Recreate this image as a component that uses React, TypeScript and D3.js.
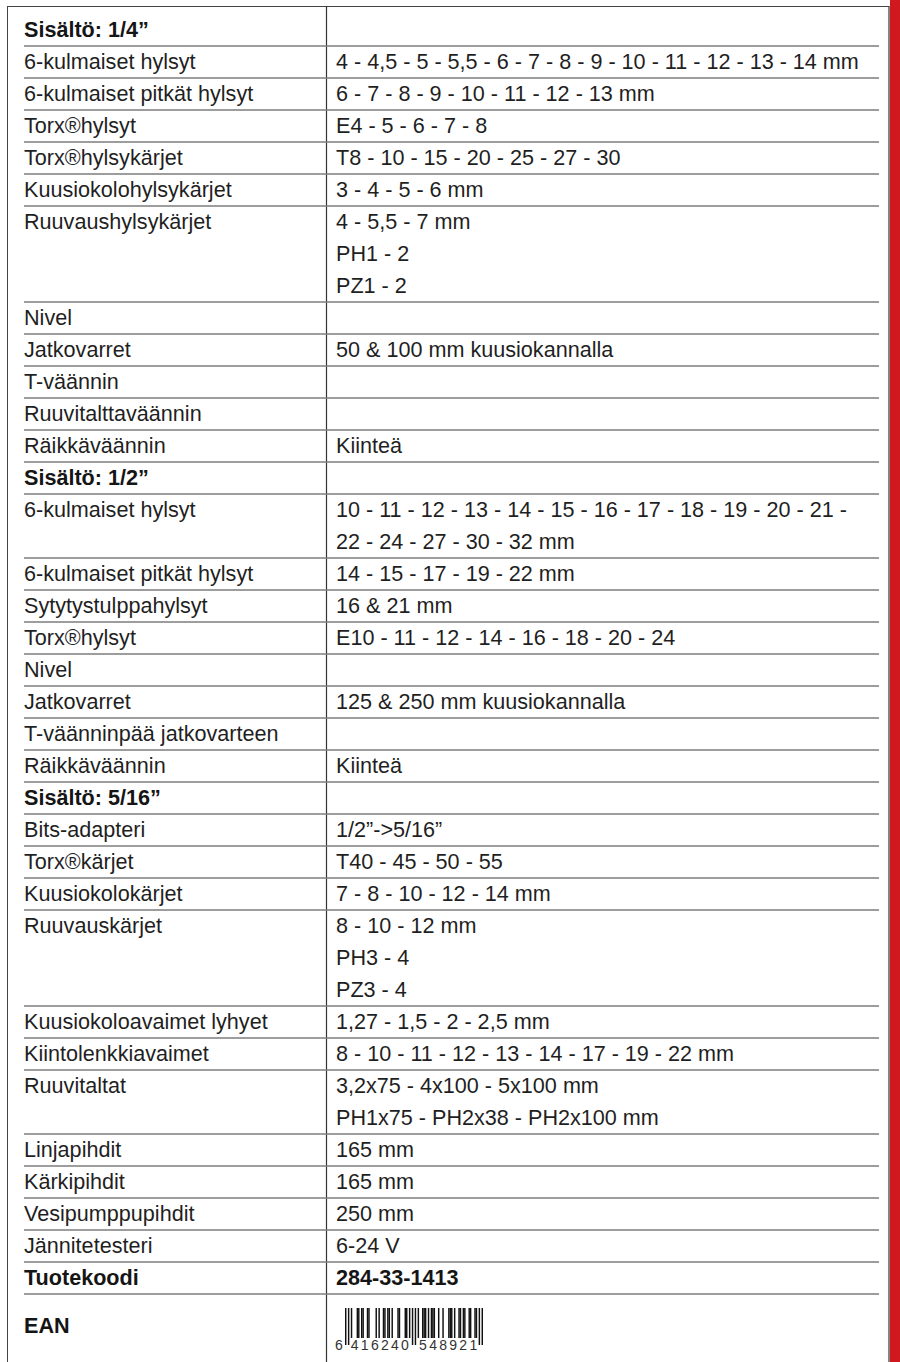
import * as React from 'react';
import * as d3 from 'd3';

// rows: [label, value lines, bold]
type Row = [string, string[], boolean?];

const section14: Row[] = [
    ['Sisältö: 1/4”', [], true],
    ['6-kulmaiset hylsyt', ['4 - 4,5 - 5 - 5,5 - 6 - 7 - 8 - 9 - 10 - 11 - 12 - 13 - 14 mm']],
    ['6-kulmaiset pitkät hylsyt', ['6 - 7 - 8 - 9 - 10 - 11 - 12 - 13 mm']],
    ['Torx®hylsyt', ['E4 - 5 - 6 - 7 - 8']],
    ['Torx®hylsykärjet', ['T8 - 10 - 15 - 20 - 25 - 27 - 30']],
    ['Kuusiokolohylsykärjet', ['3 - 4 - 5 - 6 mm']],
    ['Ruuvaushylsykärjet', ['4 - 5,5 - 7 mm', 'PH1 - 2', 'PZ1 - 2']],
    ['Nivel', []],
    ['Jatkovarret', ['50 & 100 mm kuusiokannalla']],
    ['T-väännin', []],
    ['Ruuvitalttaväännin', []],
    ['Räikkäväännin', ['Kiinteä']],
];

const section12: Row[] = [
    ['Sisältö: 1/2”', [], true],
    ['6-kulmaiset hylsyt', ['10 - 11 - 12 - 13 - 14 - 15 - 16 - 17 - 18 - 19 - 20 - 21 -', '22 - 24 - 27 - 30 - 32  mm']],
    ['6-kulmaiset pitkät hylsyt', ['14 - 15 - 17 - 19 - 22 mm']],
    ['Sytytystulppahylsyt', ['16 & 21 mm']],
    ['Torx®hylsyt', ['E10 - 11 - 12 - 14 - 16 - 18 - 20 - 24']],
    ['Nivel', []],
    ['Jatkovarret', ['125 & 250 mm kuusiokannalla']],
    ['T-väänninpää jatkovarteen', []],
    ['Räikkäväännin', ['Kiinteä']],
];

const section516: Row[] = [
    ['Sisältö: 5/16”', [], true],
    ['Bits-adapteri', ['1/2”->5/16”']],
    ['Torx®kärjet', ['T40 - 45 - 50 - 55']],
    ['Kuusiokolokärjet', ['7 - 8 - 10 - 12 - 14 mm']],
    ['Ruuvauskärjet', ['8 - 10 - 12 mm', 'PH3 - 4', 'PZ3 - 4']],
    ['Kuusiokoloavaimet lyhyet', ['1,27 - 1,5 - 2 - 2,5 mm']],
    ['Kiintolenkkiavaimet', ['8 - 10 - 11 - 12 - 13 - 14 - 17 - 19 - 22 mm']],
    ['Ruuvitaltat', ['3,2x75 - 4x100 - 5x100 mm', 'PH1x75 - PH2x38 - PH2x100 mm']],
    ['Linjapihdit', ['165 mm']],
    ['Kärkipihdit', ['165 mm']],
    ['Vesipumppupihdit', ['250 mm']],
    ['Jännitetesteri', ['6-24 V']],
];

const footerRows: Row[] = [['Tuotekoodi', ['284-33-1413'], true]];

const eanLabel = 'EAN';
const eanCode = '6416240548921';

// EAN-13 tables
const lCodes = ['0001101', '0011001', '0010011', '0111101', '0100011', '0110001', '0101111', '0111011', '0110111', '0001011'];
const parityTable = ['LLLLLL', 'LLGLGG', 'LLGGLG', 'LLGGGL', 'LGLLGG', 'LGGLLG', 'LGGGLL', 'LGLGLG', 'LGLGGL', 'LGGLGL'];

function eanBits(code: string): string {
    const rCode = (d: number) => lCodes[d].split('').map(c => (c === '1' ? '0' : '1')).join('');
    const gCode = (d: number) => rCode(d).split('').reverse().join('');
    const digits = code.split('').map(Number);
    const parity = parityTable[digits[0]];
    let bits = '101';
    for (let i = 1; i <= 6; i++) bits += parity[i - 1] === 'L' ? lCodes[digits[i]] : gCode(digits[i]);
    bits += '01010';
    for (let i = 7; i <= 12; i++) bits += rCode(digits[i]);
    bits += '101';
    return bits;
}

const allRows: Row[] = [...section14, ...section12, ...section516, ...footerRows];

const App = () => {
    const width = 900;
    const height = 1362;
    const lineH = 32;
    const top = 14;
    const leftX = 24;
    const colX = 326.5;
    const valueX = 336;
    const sepRight = 879;
    const borderL = 7.5;
    const borderR = 889;

    const totalLines = d3.sum(allRows, r => Math.max(1, r[1].length));
    const y = d3.scaleLinear().domain([0, totalLines]).range([top, top + lineH * totalLines]);

    let cursor = 0;
    const placed = allRows.map(r => {
        const n = Math.max(1, r[1].length);
        const p = { row: r, start: cursor, n };
        cursor += n;
        return p;
    });

    const eanTop = y(totalLines);
    const bits = eanBits(eanCode);
    const bx = d3.scaleLinear().domain([0, 95]).range([345, 483]);
    const guard = (i: number) => i < 3 || (i >= 45 && i < 50) || i >= 92;
    const barTop = eanTop + 14;
    const barBottom = eanTop + 44;
    const guardBottom = eanTop + 51;

    const font = "'Liberation Sans', Arial, Helvetica, sans-serif";
    const fs = 21.6;
    const textColor = '#1f1f1f';

    return (
        <div style={{ position: 'absolute', left: 0, top: 0 }}>
            <svg width={width} height={height} style={{ display: 'block', background: '#fff' }}>
                <rect x={890} y={0} width={10} height={height} fill="#d0181f" />
                <line x1={borderL} x2={borderR} y1={6.5} y2={6.5} stroke="#444" strokeWidth={1} />
                <line x1={borderL} x2={borderL} y1={6} y2={height} stroke="#444" strokeWidth={1} />
                <line x1={borderR} x2={borderR} y1={6} y2={height} stroke="#333" strokeWidth={1.2} />
                <line x1={colX} x2={colX} y1={6} y2={height} stroke="#333" strokeWidth={1.2} />
                {placed.map((p, i) => (
                    <g key={i}>
                        <text x={leftX} y={y(p.start) + 23} fontFamily={font} fontSize={fs}
                              fontWeight={p.row[2] ? 'bold' : 'normal'} fill={p.row[2] ? '#151515' : textColor}>
                            {p.row[0]}
                        </text>
                        {p.row[1].map((v, j) => (
                            <text key={j} x={valueX} y={y(p.start + j) + 23} fontFamily={font} fontSize={fs}
                                  fontWeight={p.row[2] ? 'bold' : 'normal'} fill={p.row[2] ? '#151515' : textColor}>
                                {v}
                            </text>
                        ))}
                        <line x1={leftX} x2={sepRight} y1={y(p.start + p.n)} y2={y(p.start + p.n)}
                              stroke="#7d7d7d" strokeWidth={1.5} />
                    </g>
                ))}
                <text x={leftX} y={eanTop + 39} fontFamily={font} fontSize={fs} fontWeight="bold" fill="#151515">
                    {eanLabel}
                </text>
                {bits.split('').map((b, i) => b === '1' ? (
                    <rect key={i} x={bx(i)} y={barTop} width={bx(1) - bx(0)}
                          height={(guard(i) ? guardBottom : barBottom) - barTop} fill="#111" />
                ) : null)}
                <text x={335} y={eanTop + 56} fontFamily={font} fontSize={14} fill="#333">
                    {eanCode[0]}
                </text>
                <text x={bx(4)} y={eanTop + 56} fontFamily={font} fontSize={14} fill="#333"
                      textLength={bx(44) - bx(4)} lengthAdjust="spacing">
                    {eanCode.slice(1, 7)}
                </text>
                <text x={bx(51)} y={eanTop + 56} fontFamily={font} fontSize={14} fill="#333"
                      textLength={bx(91) - bx(51)} lengthAdjust="spacing">
                    {eanCode.slice(7)}
                </text>
            </svg>
        </div>
    );
};

export default App;
